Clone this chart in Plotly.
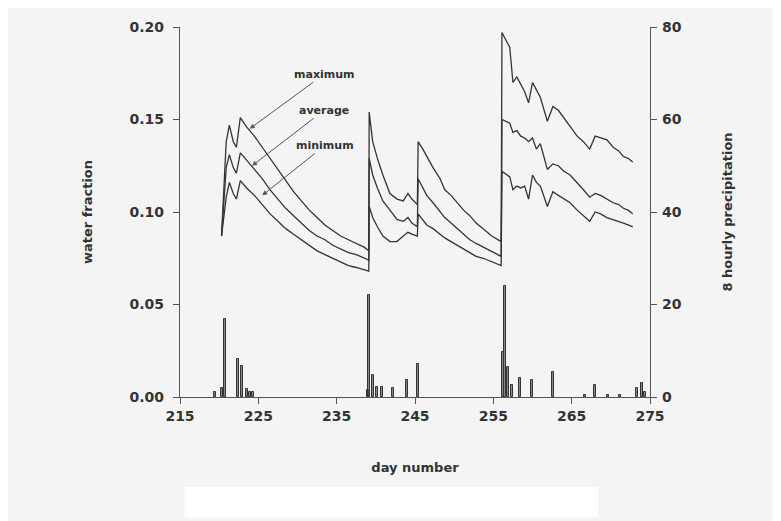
import plotly.graph_objects as go

# ---------------- data ----------------
days = [220.3, 220.9, 221.3, 221.8, 222.2, 222.7, 223.5, 224.5, 225.5, 226.5, 227.5, 228.5,
        229.5, 230.5, 231.5, 232.5, 233.5, 234.5, 235.5, 236.5, 237.5, 238.5, 239.1,
        239.15, 239.6, 240.2, 240.9, 241.8, 242.7, 243.5, 244.1, 244.6, 245.3,
        245.4, 246.0, 246.5, 247.3, 248.2, 248.8, 249.6, 250.4, 251.2, 252.0, 252.8, 253.7, 254.8, 256.0,
        256.1, 257.1, 257.5, 258.0, 258.5, 259.0, 259.5, 260.0, 260.5, 261.0, 261.9, 262.6, 263.3,
        264.0, 264.8, 265.7, 266.5, 267.3, 268.0, 268.7, 269.5, 270.3, 271.0, 271.6, 272.2, 272.8]

wf_maximum = [0.087, 0.138, 0.147, 0.138, 0.135, 0.151, 0.146, 0.141, 0.135, 0.129, 0.123, 0.117,
              0.111, 0.106, 0.101, 0.097, 0.093, 0.090, 0.087, 0.085, 0.083, 0.081, 0.079,
              0.154, 0.138, 0.129, 0.120, 0.110, 0.107, 0.106, 0.110, 0.107, 0.104,
              0.138, 0.134, 0.130, 0.124, 0.118, 0.112, 0.109, 0.105, 0.101, 0.098, 0.094, 0.091, 0.087, 0.084,
              0.197, 0.189, 0.170, 0.173, 0.169, 0.165, 0.159, 0.170, 0.166, 0.162, 0.149, 0.157, 0.155,
              0.151, 0.146, 0.141, 0.138, 0.134, 0.141, 0.140, 0.139, 0.135, 0.133, 0.130, 0.129, 0.127]

wf_average = [0.087, 0.124, 0.131, 0.124, 0.121, 0.132, 0.128, 0.123, 0.118, 0.112, 0.107, 0.102,
              0.098, 0.094, 0.090, 0.087, 0.085, 0.082, 0.080, 0.078, 0.077, 0.075, 0.074,
              0.129, 0.120, 0.113, 0.106, 0.101, 0.096, 0.095, 0.097, 0.094, 0.092,
              0.118, 0.113, 0.109, 0.105, 0.100, 0.097, 0.094, 0.091, 0.088, 0.085, 0.083, 0.081, 0.079, 0.076,
              0.150, 0.148, 0.143, 0.144, 0.141, 0.140, 0.138, 0.140, 0.134, 0.137, 0.123, 0.126, 0.125,
              0.122, 0.120, 0.116, 0.112, 0.108, 0.110, 0.109, 0.107, 0.105, 0.104, 0.102, 0.101, 0.099]

wf_minimum = [0.087, 0.108, 0.116, 0.110, 0.107, 0.117, 0.113, 0.109, 0.104, 0.099, 0.095, 0.091,
              0.088, 0.085, 0.082, 0.079, 0.077, 0.075, 0.073, 0.071, 0.070, 0.069, 0.068,
              0.103, 0.097, 0.092, 0.087, 0.084, 0.084, 0.087, 0.089, 0.088, 0.087,
              0.099, 0.096, 0.093, 0.091, 0.088, 0.086, 0.084, 0.082, 0.080, 0.078, 0.076, 0.075, 0.073, 0.071,
              0.122, 0.119, 0.112, 0.114, 0.113, 0.114, 0.107, 0.120, 0.116, 0.114, 0.103, 0.111, 0.109,
              0.107, 0.105, 0.101, 0.098, 0.095, 0.100, 0.099, 0.097, 0.096, 0.095, 0.094, 0.093, 0.092]

precip_days = [219.47, 220.36, 220.74, 222.40, 222.92, 223.55, 223.94, 224.32,
               239.0, 239.13, 239.64, 240.15, 240.79, 242.19, 243.98, 245.38,
               256.24, 256.49, 256.87, 257.38, 258.41, 259.94, 262.62, 266.7, 267.98,
               269.64, 271.17, 273.34, 273.98, 274.36]
precip_values = [1.0, 2.0, 16.8, 8.2, 6.7, 1.7, 1.0, 1.0,
                 1.5, 22.0, 4.7, 2.2, 2.2, 2.0, 3.7, 7.1,
                 9.7, 24.0, 6.5, 2.6, 4.1, 3.7, 5.4, 0.5, 2.6,
                 0.5, 0.5, 2.0, 3.0, 1.0]

x_ticks = [215, 225, 235, 245, 255, 265, 275]
y_ticks = [0.00, 0.05, 0.10, 0.15, 0.20]
y2_ticks = [0, 20, 40, 60, 80]

label_names = ["maximum", "average", "minimum"]
label_text_pos = [(233.4, 0.1745), (233.4, 0.155), (233.5, 0.136)]
label_arrow_pos = [(223.9, 0.145), (224.2, 0.125), (225.5, 0.109)]

# ---------------- figure ----------------
INK = "#333333"
FONT = "DejaVu Sans"

fig = go.Figure()

fig.add_trace(go.Bar(x=precip_days, y=precip_values, width=0.33, yaxis="y2",
                     marker=dict(color="rgba(90,90,90,0.7)", line=dict(color=INK, width=1)),
                     showlegend=False))

for vals in (wf_maximum, wf_average, wf_minimum):
    fig.add_trace(go.Scatter(x=days, y=vals, mode="lines",
                             line=dict(color=INK, width=1.3), showlegend=False))

for name, (tx, ty), (hx, hy) in zip(label_names, label_text_pos, label_arrow_pos):
    fig.add_annotation(x=hx, y=hy, ax=tx, ay=ty, axref="x", ayref="y",
                       text=name, showarrow=True, arrowhead=2, arrowsize=1,
                       arrowwidth=1, arrowcolor="#555555",
                       font=dict(family=FONT, size=11, color=INK, weight="bold"))

# white strip at the bottom (caption blanked out in the scan)
fig.add_shape(type="rect", xref="paper", yref="paper", x0=0.01, x1=0.89,
              y0=-0.324, y1=-0.243, fillcolor="white", line=dict(width=0), layer="below")

axis_common = dict(showgrid=False, zeroline=False, showline=True, linecolor="#555555",
                   linewidth=1.3, ticks="outside", ticklen=6, tickcolor="#555555",
                   tickfont=dict(family=FONT, size=14, color=INK, weight="bold"))

fig.update_layout(
    width=773, height=513,
    margin=dict(l=172, r=131, t=19, b=124),
    paper_bgcolor="#f4f4f4", plot_bgcolor="#f4f4f4",
    bargap=0,
    xaxis=dict(range=[215, 275], tickvals=x_ticks, **axis_common,
               title=dict(text="day number", standoff=39,
                          font=dict(family=FONT, size=13, color=INK, weight="bold"))),
    yaxis=dict(range=[0, 0.20], tickvals=y_ticks, tickformat=".2f", ticklabelstandoff=6,
               **axis_common,
               title=dict(text="water fraction", standoff=33,
                          font=dict(family=FONT, size=13, color=INK, weight="bold"))),
    yaxis2=dict(range=[0, 80], tickvals=y2_ticks, overlaying="y", side="right",
                ticklabelstandoff=2, **axis_common,
                title=dict(text="8 hourly precipitation", standoff=42,
                           font=dict(family=FONT, size=13, color=INK, weight="bold"))),
)

fig.write_html("out.html")
